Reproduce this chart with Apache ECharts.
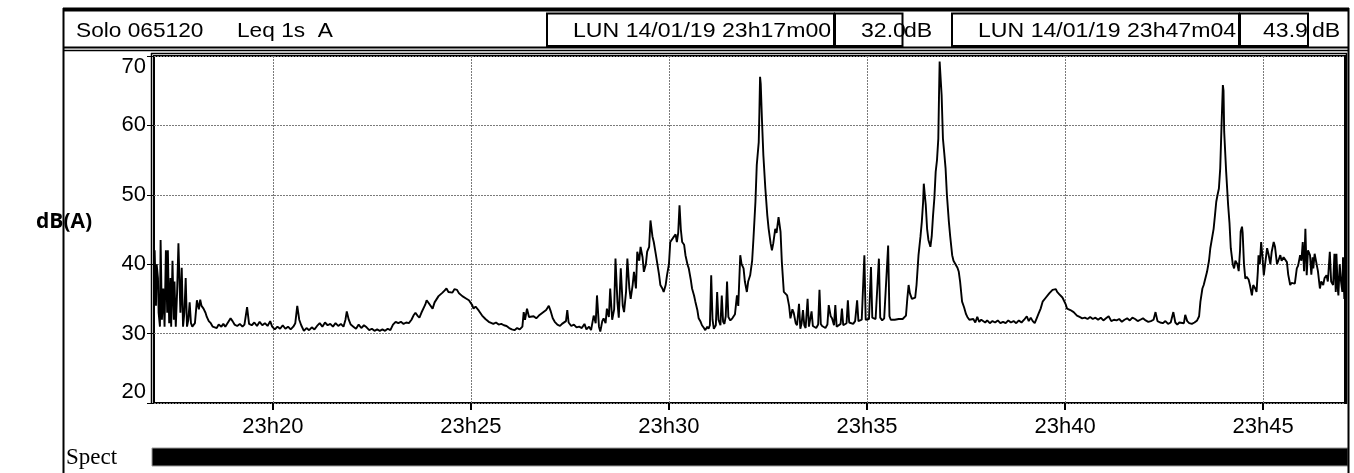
<!DOCTYPE html>
<html>
<head>
<meta charset="utf-8">
<script src="https://cdn.jsdelivr.net/npm/echarts@6/dist/echarts.min.js"></script>
<style>
html,body{margin:0;padding:0;background:#fff;}
#chart{width:1354px;height:473px;}
</style>
</head>
<body>
<div id="chart"></div>
<script>
// ---- data ----
const startSeconds = 17 * 60;          // 23h17m00, seconds after 23h00
const durationSeconds = 1804;          // up to 23h47m04
const yTicks = [20, 30, 40, 50, 60, 70];
const xTickSeconds = [1200, 1500, 1800, 2100, 2400, 2700]; // 23h20 ... 23h45
const headerTexts = ['Solo 065120', 'Leq 1s  A', 'LUN 14/01/19 23h17m00', '32.0', 'dB', 'LUN 14/01/19 23h47m04', '43.9', 'dB'];
// [seconds after 23h17m00, Leq dB(A)]
const leqSamples = [
[0,36],[1,42],[3,34],[4,40],[6,38],[7,33],[9,31],[10,43.5],[12,32],[14,36.5],[16,31],[18,42],[20,33],[21,42],[23,31.5],[25,38],[26,31],[28,40.5],[30,32],[31,37.5],[33,31],[35,36],[37,43],[39,43],[40,33],[42,39.5],[44,31],[46,33],[48,38],[50,31],[52,32],[54,34.5],[56,31.5],[58,31],[60,30.8],
[62,31.5],[65,34.8],[68,33.5],[70,34.9],[72,34],[75,33.6],[78,33],[80,32.4],[83,31.8],[86,31.5],[89,31],[92,31.2],[95,30.8],[98,31.3],[102,31],[105,31.4],[108,31],[112,31.6],[116,32.2],[119,31.8],[122,31.3],[126,31.1],[130,31.4],[134,31],[137,31.3],[141,33.8],[144,31.4],[148,31.2],[152,31.6],[156,31.1],[160,31.7],[164,31.2],[168,31.5],[172,31.1],[176,31.8],[179,31],[183,30.6],[187,31],[191,30.7],[195,31.2],[199,30.7],[203,31],[207,30.6],[211,31],[214,31.5],[217,34],[220,32],[223,31.2],[227,30.4],[231,30.8],[235,30.5],[239,30.9],[243,30.6],[247,31.1],[251,31.5],[255,31],[259,31.6],[263,31.2],[267,31.4],[271,31],[275,31.5],[279,31.1],[283,31.4],[287,31],[290,32],[292,33.2],[295,32],[298,31.3],[302,31],[306,30.7],[310,31.3],[314,30.8],[318,31.2],[322,30.9],[326,30.5],[330,30.7],[334,30.4],[338,30.6],[342,30.4],[346,30.6],[350,30.4],[354,30.7],[358,30.5],[362,31.3],[366,31.7],[370,31.5],[374,31.7],[378,31.4],[382,31.6],[386,31.5],[390,32],[393,32.6],[396,33],[399,32.6],[402,32.3],[405,33],[408,33.2],[411,34.2],[413,34.8],[416,34.4],[419,34.6],[422,33.6],[425,34.5],[428,34.6],[431,35.4],[434,35.6],[437,35.9],[440,36.2],[443,36.5],[446,36],[449,36],
[452,35.9],[455,36.4],[459,36.3],[462,35.8],[464,36],[467,35.4],[469,35.6],[472,35.1],[474,35],[477,34.8],[479,34.6],[482,34.1],[484,33.6],[487,33.9],[489,33.8],[492,33.3],[494,33.1],[497,32.6],[499,32.4],[502,32.1],[504,31.9],[507,31.7],[510,31.6],[514,31.4],[518,31.6],[522,31.3],[526,31.4],[530,31.2],[534,31.1],[538,30.8],[542,30.6],[546,30.5],[550,30.8],[554,30.6],[558,31],[560,33.1],[562,32],[565,33.6],[568,32.4],[571,32.3],[575,32.5],[579,32.2],[583,32.6],[587,32.9],[590,32.7],[594,33.4],[598,34],[601,33.2],[604,32.2],[607,31.7],[611,31.3],[615,31.1],[618,31.4],[621,31.2],[624,31.8],[626,33.4],[628,31.6],[632,31.1],[636,31.3],[640,30.9],[644,31],[648,30.8],[652,31.4],[655,30.6],[659,31],[662,30.5],[664,30.4],[666,32.6],[669,31.5],[671,35.5],[674,31],[676,30.3],[679,31.8],[681,32.2],[684,31.5],[686,33.6],[689,32.4],[691,36.5],[694,32],[697,33.5],[699,40.8],[702,34.5],[704,32.3],[707,39.4],[710,34],[712,33.1],[715,36],[717,40.8],[720,36.5],[722,35],[725,37],[727,38.9],[730,36.5],[732,41.8],[735,40.5],[737,42.5],[740,41],[742,38.9],[745,40],[747,41.8],[750,42.5],[752,46.3],[755,44],[757,43.2],[760,41.5],[762,40.3],[765,38.5],[767,37],[770,36.5],[772,36],[775,37],[777,38.4],[780,40],[782,43.2],[785,43],[787,43.9],[790,44.3],[792,43.2],[794,44.5],[796,48.5],[798,45],[800,43.2],[803,42.8],[805,41.3],[808,40],[810,39.4],[813,37.8],[815,36.5],[818,35.5],[820,34.6],[823,33.4],[825,32.2],[828,31.7],[830,31.2],[833,30.8],[835,30.5],[838,31],[840,30.7],[842,31.2],[844,38.4],[846,32],[848,30.7],[851,31.2],[853,36],[855,32],[858,31.2],[860,35.5],[862,31.7],[864,31.4],[866,32.5],[868,37.5],[870,32.4],[873,31.9],[876,32.2],[878,32.2],[880,32.8],[883,35.5],[885,34],[888,41.3],[890,40],[893,39.4],[895,37.5],[898,36],[900,37.5],[903,38.4],
[906,40.5],[908,43.7],[911,49],[913,54.3],[916,57.6],[917,62],[918,67],[919,66],[921,60.5],[923,55.7],[926,50.9],[929,47],[931,45.1],[934,43],[936,42],[938,43],[941,45.1],[943,44.5],[946,46.8],[949,44.7],[951,40.3],[954,36],[957,35.8],[959,35.5],[962,34],[964,32.2],[967,33.5],[969,33],[972,31.5],[974,31.2],[977,34.3],[979,30.7],[981,31.5],[983,33.4],[985,31.2],[987,30.8],[990,35],[992,31],[994,31.1],[996,33.2],[998,31.1],[1000,31.1],[1003,30.8],[1006,31.3],[1008,36.3],[1010,31.4],[1012,31.1],[1015,31],[1017,30.8],[1020,31.3],[1022,34.1],[1025,32.5],[1027,32.2],[1030,31.2],[1032,34.1],[1034,31],[1037,31.1],[1040,31.4],[1042,33.6],[1044,31.2],[1047,31.1],[1049,31.5],[1051,34.8],[1053,31.6],[1056,31.4],[1059,31.4],[1062,31.8],[1065,34.8],[1067,31.8],[1070,31.7],[1072,32],[1074,31.8],[1076,41.3],[1078,32],[1080,31.9],[1083,32.1],[1086,39.6],[1088,32.3],[1090,32.2],[1093,32.1],[1096,32.3],[1098,40.8],[1100,32.3],[1103,31.9],[1106,32.2],[1109,32.4],[1112,42.7],[1114,32.5],[1116,32],[1119,32.1],[1122,32],[1125,32.2],[1128,32.1],[1131,32.3],[1134,32.1],[1137,32.3],[1139,32.6],[1141,35],[1143,37],[1145,35.8],[1148,35],[1150,34.8],[1153,35.2],[1155,37],[1158,41.3],[1161,44],[1163,46.1],[1165,49],[1166,51.6],[1168,49.5],[1169,48.5],[1171,45.1],[1173,43.5],[1176,42.5],[1178,44],[1180,47],[1182,49.5],[1184,53.3],[1186,55],[1188,58.1],[1189,64],[1190,69.2],[1191,69],[1193,64.4],[1195,58.1],[1197,56],[1199,53.8],[1201,50],[1204,46.1],[1206,44],[1209,41.3],[1211,40.5],[1214,40.3],[1217,39.5],[1219,38.9],[1221,37.5],[1224,34.6],[1227,33.8],[1230,32.8],[1232,32.4],[1235,32],[1238,31.9],[1241,32.1],[1244,31.6],[1247,32.4],[1250,31.7],[1253,32],[1256,31.8],[1259,31.6],[1262,31.9],[1266,31.5],[1270,31.8],[1274,31.6],[1278,31.9],[1282,31.5],[1286,31.7],[1290,31.5],[1294,31.9],[1298,31.6],[1302,31.8],[1306,31.5],[1310,31.9],[1314,31.6],[1318,32],[1322,32.5],[1325,31.8],[1328,32.3],[1331,31.8],[1334,31.5],[1337,32.2],[1340,32.9],[1343,33.6],[1346,34.6],[1348,34.4],[1351,35.2],[1353,35],[1356,35.8],
[1358,35.8],[1361,36.3],[1363,36.5],[1366,36.4],[1368,36],[1371,35.7],[1373,35.6],[1376,35.2],[1378,35],[1381,34.2],[1383,33.6],[1386,33.8],[1388,33.4],[1391,33.5],[1393,33.1],[1396,32.9],[1398,32.6],[1402,32.4],[1406,32.2],[1410,32.3],[1414,32.1],[1418,32.4],[1422,32.1],[1426,32.3],[1430,32],[1434,32.3],[1438,31.9],[1442,32.2],[1446,32.5],[1450,31.8],[1454,32],[1458,31.9],[1462,32.1],[1466,31.7],[1470,32],[1474,32.2],[1478,31.9],[1482,32.3],[1486,32.1],[1490,31.8],[1494,32],[1498,32.2],[1502,31.9],[1506,31.7],[1510,31.8],[1514,32],[1517,33.1],[1520,31.8],[1524,31.6],[1528,31.5],[1532,31.8],[1536,31.4],[1540,31.6],[1544,33.1],[1547,31.6],[1550,31.3],[1553,31.6],[1556,31.4],[1560,31.5],[1562,32.7],[1565,31.8],[1568,31.5],[1572,31.4],[1576,31.6],[1580,31.9],[1583,32.5],[1585,34.6],[1588,36.5],[1590,37],[1592,36.8],[1595,38.9],[1598,40.5],[1600,42.3],[1602,42.5],[1605,45.1],[1607,47],[1609,49],[1611,50],[1613,50.9],[1615,53.8],[1617,60],[1619,65.8],[1620,65],[1621,59.1],[1624,53.3],[1627,48.5],[1629,46],[1631,42.3],[1634,40],[1636,39.4],[1638,40.5],[1641,40],[1643,39],[1645,42],[1646,44.7],[1648,45.4],[1649,44.5],[1651,40],[1653,37.9],[1655,38.2],[1658,37.8],[1660,37],[1663,35.5],[1665,37],[1668,36.5],[1670,36],[1672,39],[1673,41.3],[1675,40],[1677,43.2],[1679,41],[1681,38.4],[1683,40],[1686,42.3],[1688,41.5],[1691,40],[1693,41.8],[1696,43.2],[1698,42.5],[1701,40],[1703,40.5],[1706,41.3],[1708,40.5],[1711,41],[1713,40.8],[1716,40.3],[1718,38.5],[1721,37],[1723,37.3],[1726,37.5],[1728,37.2],[1731,39.4],[1733,39.8],[1736,41.3],[1738,40.5],[1740,43.2],[1742,39],[1744,45.1],[1746,38.4],[1748,42],[1751,41.3],[1753,38.5],[1755,41],[1756,39.4],[1758,41.5],[1761,41.3],[1763,39],[1766,36.5],[1768,37.5],[1771,37],[1773,38],[1776,38.4],[1778,37.5],[1781,41.8],[1783,37.5],[1786,37],[1788,41.5],[1790,36],[1791,41.5],[1793,36.5],[1794,35.5],[1796,40],[1798,37.5],[1800,36],[1801,41],[1803,35],[1804,35.5]
];

// ---- chart ----
const seriesData = leqSamples.map(p => [startSeconds + p[0], p[1]]);
const fmtTime = v => '23h' + String(Math.round(v / 60) % 60).padStart(2, '0');

const chart = echarts.init(document.getElementById('chart'), null, {renderer: 'canvas'});
const FONT = '"Liberation Sans", Arial, sans-serif';

function hText(str, x, sx) {
  return {type: 'text', x: x, y: 31.5, scaleX: sx, z: 10,
    style: {text: str, fontFamily: FONT, fontSize: 21, fill: '#000', verticalAlign: 'middle', align: 'left'}};
}
function box(x1, x2) {
  return {type: 'rect', z: 11, shape: {x: x1, y: 13.5, width: x2 - x1, height: 32.5},
    style: {fill: 'none', stroke: '#000', lineWidth: 2}};
}
function vline(x, y1, y2, w) {
  return {type: 'line', z: 12, shape: {x1: x, y1: y1, x2: x, y2: y2}, style: {stroke: '#000', lineWidth: w}};
}
function hline(y, x1, x2, w) {
  return {type: 'line', z: 12, shape: {x1: x1, y1: y, x2: x2, y2: y}, style: {stroke: '#000', lineWidth: w}};
}

chart.setOption({
  animation: false,
  backgroundColor: '#fff',
  grid: {left: 154, right: 9, top: 56, bottom: 70, show: true, borderColor: '#000', borderWidth: 2, backgroundColor: 'transparent'},
  xAxis: {
    type: 'value',
    min: startSeconds,
    max: startSeconds + durationSeconds,
    minInterval: 300,
    maxInterval: 300,
    axisLine: {show: false},
    axisTick: {show: true, length: 7, lineStyle: {color: '#000', width: 2}, customValues: xTickSeconds},
    axisLabel: {fontFamily: FONT, fontSize: 22, color: '#000', margin: 13,
      formatter: fmtTime, customValues: xTickSeconds},
    splitLine: {show: true, lineStyle: {color: '#7a7a7a', type: [2, 1], width: 1}}
  },
  yAxis: {
    type: 'value',
    min: yTicks[0],
    max: yTicks[yTicks.length - 1],
    interval: 10,
    axisLine: {show: false},
    axisTick: {show: true, length: 7, lineStyle: {color: '#000', width: 1}},
    axisLabel: {fontFamily: FONT, fontSize: 22, color: '#000', margin: 8,
      verticalAlignMaxLabel: 'top', verticalAlignMinLabel: 'bottom'},
    splitLine: {show: true, lineStyle: {color: '#7a7a7a', type: [2, 1], width: 1}}
  },
  series: [{
    type: 'line',
    data: seriesData,
    showSymbol: false,
    symbol: 'none',
    lineStyle: {color: '#000', width: 1.9},
    z: 5
  }],
  graphic: [
    // outer frame of the report
    hline(9.5, 63, 1349, 4),
    vline(63.5, 8, 473, 2),
    vline(1348.5, 8, 473, 2),
    hline(47.5, 63, 1349, 2),
    hline(50.5, 63, 1349, 1.5),
    // header texts
    hText(headerTexts[0], 76, 1.08),
    hText(headerTexts[1], 237, 1.08),
    hText(headerTexts[2], 573, 1.1),
    hText(headerTexts[3], 861, 1.1),
    hText(headerTexts[4], 904, 1.1),
    hText(headerTexts[5], 978, 1.1),
    hText(headerTexts[6], 1263, 1.1),
    hText(headerTexts[7], 1312, 1.1),
    box(547, 834), box(835, 902.5), box(952, 1239), box(1240, 1308),
    // double frame around plot
    vline(151.5, 53, 404, 1.5),
    hline(53.5, 151, 1347, 1.5),
    vline(1346.5, 53, 404, 1.5),
    // y axis title
    {type: 'text', x: 36, y: 222, z: 10,
      style: {text: 'dB(A)', fontFamily: '"Open Sans", sans-serif', fontWeight: 'bold', fontSize: 21, fill: '#000', verticalAlign: 'middle'}},
    // Spect bar
    {type: 'text', x: 66, y: 458, z: 10,
      style: {text: 'Spect', fontFamily: '"Liberation Serif", serif', fontSize: 23, fill: '#000', verticalAlign: 'middle'}},
    {type: 'rect', z: 10, shape: {x: 152, y: 448, width: 1196, height: 18},
      style: {fill: '#000', stroke: '#9a9a9a', lineWidth: 1}}
  ]
});
</script>
</body>
</html>
